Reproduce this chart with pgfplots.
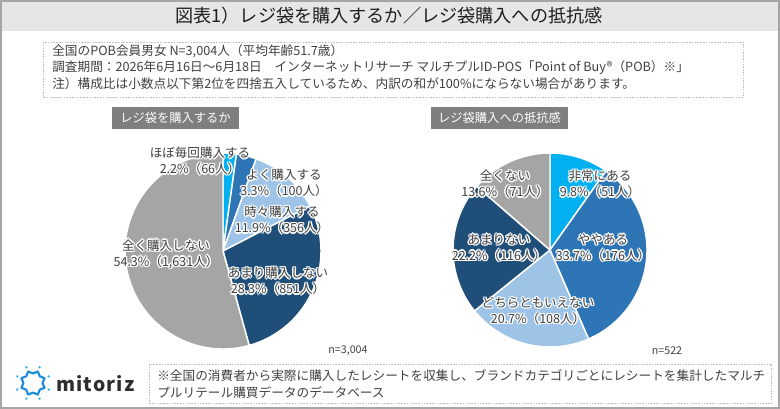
\documentclass[border=0pt]{standalone}
\usepackage{pgfplots}
\pgfplotsset{compat=1.18}
\usepackage{pgfplotstable}
\usepackage{fontspec}
\setmainfont{Noto Sans CJK JP}
\newfontfamily\logofont[LetterSpace=6]{Noto Sans CJK JP}

\definecolor{cCyan}{HTML}{00B0F0}
\definecolor{cBlue}{HTML}{2E75B6}
\definecolor{cLight}{HTML}{9DC3E6}
\definecolor{cDark}{HTML}{1F4E79}
\definecolor{cGrey}{HTML}{A5A5A5}
\definecolor{txt}{HTML}{404040}
\definecolor{framecol}{HTML}{A6A6A6}
\definecolor{titlebg}{HTML}{E6E6E6}
\definecolor{tagbg}{HTML}{7F7F7F}
\definecolor{boxline}{HTML}{BFBFBF}
\definecolor{logoblue}{HTML}{1B8BD6}
\definecolor{logodot}{HTML}{3DB4EE}

% share of answers (percent) and slice colour, clockwise from 12 o'clock
\pgfplotstableread{
pct  color
2.2  cCyan
3.3  cBlue
11.9 cLight
28.3 cDark
54.3 cGrey
}\bagfreq

\pgfplotstableread{
pct  color
9.8  cCyan
33.7 cBlue
20.7 cLight
22.2 cDark
13.6 cGrey
}\bagresist

% #1 table, #2/#3 centre (axis units), #4 radius (px)
\newcommand{\piechart}[4]{%
  \pgfplotstablegetrowsof{#1}%
  \pgfmathtruncatemacro\lastrow{\pgfplotsretval-1}%
  \gdef\angstart{90}%
  \pgfplotsforeachungrouped \k in {0,...,\lastrow}{%
    \pgfplotstablegetelem{\k}{pct}\of{#1}\let\pct\pgfplotsretval
    \pgfplotstablegetelem{\k}{color}\of{#1}\let\col\pgfplotsretval
    \pgfmathsetmacro\angend{\angstart-3.6*\pct}%
    \edef\slice{\noexpand\filldraw[fill=\col,draw=white,line width=1.1pt,line join=round]
      (axis cs:#2,#3) -- ++(\angstart:#4*0.75pt)
      arc[start angle=\angstart,end angle=\angend,radius=#4*0.75pt] -- cycle;}%
    \slice
    \xdef\angstart{\angend}%
  }%
}

\tikzset{
  lab/.style={font=\fontsize{9.4}{12}\selectfont, text=txt, align=center, inner sep=0pt},
  note/.style={font=\fontsize{9.5}{12}\selectfont, text=txt, anchor=west, inner sep=0pt},
}
% label with a white halo
\newcommand{\glowlab}[3]{%
  \foreach \a in {0,45,...,315}{\path (#1,#2) ++(\a:1.1pt) node[lab,text=white]{#3};}
  \node[lab] at (#1,#2) {#3};}

\begin{document}
\begin{tikzpicture}
\begin{axis}[
  scale only axis, width=585pt, height=306.75pt,
  at={(0,0)}, anchor=south west,
  xmin=0, xmax=780, ymin=0, ymax=409, y dir=reverse,
  hide axis, clip=false]
  \piechart{\bagfreq}{223}{251}{98}
  \piechart{\bagresist}{550}{250}{97}
\end{axis}

\begin{scope}[x=0.75pt, y=-0.75pt, shift={(0pt,306.75pt)}]
  % header
  \fill[titlebg] (0,0) rectangle (780,31);
  \draw[framecol, line width=1.1pt] (0.8,0.8) rectangle (779.2,408.2);
  \node[font=\fontsize{13.6}{15}\selectfont, text=black!88] at (389,16)
    {図表1）レジ袋を購入するか／レジ袋購入への抵抗感};

  % survey outline
  \draw[boxline, line width=0.6pt, dash pattern=on 1.2pt off 0.9pt] (43,42) rectangle (743,97);
  \node[note] at (52,51) {全国のPOB会員男女 N=3,004人（平均年齢51.7歳）};
  \node[note] at (52,68) {調査期間：2026年6月16日～6月18日　インターネットリサーチ マルチプルID-POS「Point of Buy®（POB）※」};
  \node[note] at (52,84) {注）構成比は小数点以下第2位を四捨五入しているため、内訳の和が100\%にならない場合があります。};

  % section tags
  \fill[tagbg] (112,107) rectangle (239,129);
  \node[font=\fontsize{9.2}{11}\selectfont, text=white] at (175.5,118) {レジ袋を購入するか};
  \fill[tagbg] (431,107) rectangle (568,129);
  \node[font=\fontsize{9.2}{11}\selectfont, text=white] at (499.5,118) {レジ袋購入への抵抗感};

  % slice labels
  \glowlab{200}{161}{ほぼ毎回購入する\\2.2\%（66人）}
  \glowlab{284}{183}{よく購入する\\3.3\%（100人）}
  \glowlab{282}{220}{時々購入する\\11.9\%（356人）}
  \glowlab{278}{281}{あまり購入しない\\28.3\%（851人）}
  \glowlab{166}{254}{全く購入しない\\54.3\%（1,631人）}

  \glowlab{600}{184}{非常にある\\9.8\%（51人）}
  \glowlab{603}{248}{ややある\\33.7\%（176人）}
  \glowlab{538}{311}{どちらともいえない\\20.7\%（108人）}
  \glowlab{499}{248}{あまりない\\22.2\%（116人）}
  \glowlab{505}{184}{全くない\\13.6\%（71人）}

  \node[font=\fontsize{8}{10}\selectfont, text=txt] at (348,351) {n=3,004};
  \node[font=\fontsize{8}{10}\selectfont, text=txt] at (667,351) {n=522};

  % logo
  \begin{scope}[shift={(33,383)}]
    \draw[logoblue, line width=1.6pt, line join=round]
      (22.5:12.5) -- (45:9.5) -- (67.5:12.5) -- (90:9.5) -- (112.5:12.5) -- (135:9.5)
      -- (157.5:12.5) -- (180:9.5) -- (202.5:12.5) -- (225:9.5) -- (247.5:12.5)
      -- (270:9.5) -- (292.5:12.5) -- (315:9.5) -- (337.5:12.5) -- (0:9.5) -- cycle;
    \foreach \a in {22.5,67.5,...,337.5} \fill[logodot] (\a:17) circle (1.3);
  \end{scope}
  \node[anchor=west, inner sep=0pt, font=\logofont\bfseries\fontsize{14.5}{16}\selectfont, text=black!82] at (56,384) {mitoriz};

  % footnote
  \draw[boxline, line width=0.6pt, dash pattern=on 1.2pt off 0.9pt] (149,364) rectangle (771,403);
  \node[note] at (157,376) {※全国の消費者から実際に購入したレシートを収集し、ブランドカテゴリごとにレシートを集計したマルチ};
  \node[note] at (157,393) {プルリテール購買データのデータベース};

  \pgfresetboundingbox
  \path[use as bounding box] (0,0) rectangle (780,409);
\end{scope}
\end{tikzpicture}
\end{document}
